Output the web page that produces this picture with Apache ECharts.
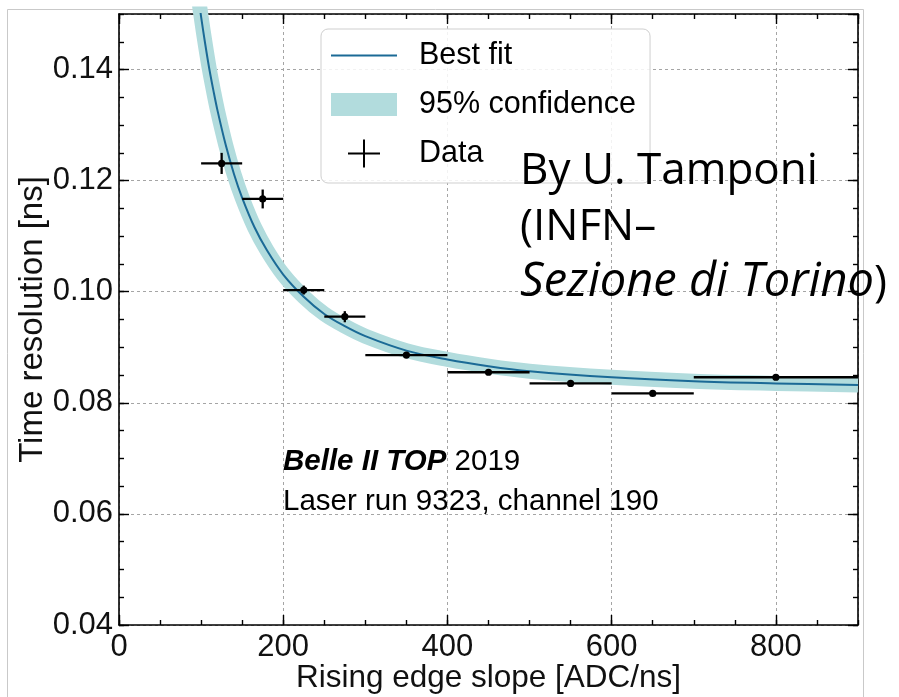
<!DOCTYPE html>
<html>
<head>
<meta charset="utf-8">
<script src="https://cdn.jsdelivr.net/npm/echarts@6/dist/echarts.min.js"></script>
<style>
  html, body { margin: 0; padding: 0; background: #ffffff; }
  #chart { width: 899px; height: 697px; }
</style>
</head>
<body>
<div id="chart"></div>
<script>
// Fitted time resolution vs. rising edge slope (sampled along the curve)
const fitSlope = [90, 95, 100, 105, 110, 115, 120, 130, 140, 150, 165, 180, 200, 225, 250, 275, 300, 350, 400, 450, 500, 600, 700, 800, 900];
const fitResolution = [0.1613, 0.1550, 0.1495, 0.1446, 0.1401, 0.1362, 0.1326, 0.1264, 0.1212, 0.1169, 0.1116, 0.1075, 0.1031, 0.0991, 0.0960, 0.0938, 0.0920, 0.0894, 0.0878, 0.0866, 0.0857, 0.0846, 0.0839, 0.0835, 0.0832];

// Measured points: slope bin centre and edges, resolution and its uncertainty
const slopeCenter = [125, 175, 225, 275, 350, 450, 550, 650, 800];
const slopeLow = [100, 150, 200, 250, 300, 400, 500, 600, 700];
const slopeHigh = [150, 200, 250, 300, 400, 500, 600, 700, 900];
const resolution = [0.1231, 0.1167, 0.1003, 0.0955, 0.0886, 0.0855, 0.0835, 0.0817, 0.0846];
const resolutionErr = [0.0019, 0.0017, 0.0008, 0.0010, 0.0003, 0.0003, 0.0003, 0.0003, 0.0003];

// Axis tick values
const xMajorStep = 200, xMinorStep = 50, xMin = 0, xMax = 900;
const yMajorStep = 0.02, yMinorStep = 0.005, yMin = 0.04, yMax = 0.15;

const FONT = 'Liberation Sans, Helvetica, Arial, sans-serif';
const NOTE_FONT = 'Open Sans, Noto Sans, sans-serif';
const BAND = '#b2dcdd';
const FIT = '#1b6a96';

const chart = echarts.init(document.getElementById('chart'), null, { renderer: 'canvas' });

const fitData = fitSlope.map((x, i) => [x, fitResolution[i]]);
const pointData = slopeCenter.map((x, i) => [x, resolution[i], slopeLow[i], slopeHigh[i], resolutionErr[i]]);

function axis(kind, position, step, major, withLabels) {
  const isX = kind === 'x';
  const a = {
    type: 'value',
    position: position,
    min: isX ? xMin : yMin,
    max: isX ? xMax : yMax,
    interval: step,
    axisLine: { show: major, onZero: false, lineStyle: { color: '#000', width: 1.6 } },
    axisTick: { show: true, inside: true, length: major ? 10 : 5, lineStyle: { color: '#000', width: 1.4 } },
    axisLabel: { show: false },
    splitLine: { show: false },
    minorTick: { show: false }
  };
  if (withLabels) {
    a.axisLabel = {
      show: true,
      showMaxLabel: false,
      margin: isX ? 7 : 6,
      fontSize: 31,
      color: '#111',
      fontFamily: FONT,
      formatter: isX ? (v) => String(Math.round(v)) : (v) => v.toFixed(2)
    };
    a.splitLine = { show: true, lineStyle: { color: '#a5a5a5', width: 1, type: [3, 3] } };
  }
  return a;
}

const xAxes = [
  Object.assign(axis('x', 'bottom', xMajorStep, true, true), {
    name: 'Rising edge slope [ADC/ns]',
    nameLocation: 'middle',
    nameGap: 37,
    nameMoveOverlap: false,
    nameTextStyle: { fontSize: 31.5, color: '#111', fontFamily: FONT }
  }),
  axis('x', 'bottom', xMinorStep, false, false),
  axis('x', 'top', xMajorStep, true, false),
  axis('x', 'top', xMinorStep, false, false)
];
const yAxes = [
  Object.assign(axis('y', 'left', yMajorStep, true, true), {
    name: 'Time resolution [ns]',
    nameLocation: 'middle',
    nameGap: 70,
    nameMoveOverlap: false,
    nameTextStyle: { fontSize: 33, color: '#111', fontFamily: FONT }
  }),
  axis('y', 'left', yMinorStep, false, false),
  axis('y', 'right', yMajorStep, true, false),
  axis('y', 'right', yMinorStep, false, false)
];

const corners = 'M0,0h0.01v0.01h-0.01zM65.99,27.99h0.01v0.01h-0.01z';
const lineIcon = 'path://' + corners + 'M0,13h66v2h-66z';
const bandIcon = 'path://' + corners + 'M0,2.5h66v23h-66z';
const crossIcon = 'path://' + corners + 'M17,13h32v2h-32zM32,0h2v28h-2z';

const option = {
  animation: false,
  backgroundColor: '#ffffff',
  grid: { left: 119, top: 14, right: 41, bottom: 72, containLabel: false, outerBoundsMode: 'none' },
  xAxis: xAxes,
  yAxis: yAxes,
  legend: {
    orient: 'vertical',
    left: 321,
    top: 29,
    itemWidth: 66,
    itemHeight: 28,
    itemGap: 18,
    padding: [11, 14, 14, 10],
    backgroundColor: 'rgba(255,255,255,0.85)',
    borderColor: '#cfcfcf',
    borderWidth: 1,
    borderRadius: 7,
    selectedMode: false,
    textStyle: { fontSize: 30.5, color: '#000', fontFamily: FONT, padding: [0, 0, 0, 17] },
    data: [
      { name: 'Best fit', icon: lineIcon },
      { name: '95% confidence', icon: bandIcon },
      { name: 'Data', icon: crossIcon }
    ]
  },
  graphic: [
    {
      type: 'rect', z: -10, silent: true,
      shape: { x: 7.5, y: 9.5, width: 856, height: 700 },
      style: { fill: 'none', stroke: '#c9c9c9', lineWidth: 1 }
    },
    {
      type: 'text', z: 100, silent: true, x: 283, y: 442,
      style: {
        text: '{b|Belle II TOP} 2019\nLaser run 9323, channel 190',
        fontSize: 29.5, fontFamily: FONT, fill: '#000', lineHeight: 40,
        rich: {
          b: { fontSize: 29.5, fontFamily: FONT, fontWeight: 'bold', fontStyle: 'italic', lineHeight: 40 }
        }
      }
    },
    {
      type: 'text', z: 100, silent: true, x: 520, y: 143,
      style: {
        text: 'By U. Tamponi\n(INFN\u2013\n{i|Sezione di Torino})',
        fontSize: 44, fontFamily: NOTE_FONT, fill: '#000', lineHeight: 56,
        rich: {
          i: { fontSize: 47, fontFamily: NOTE_FONT, fontStyle: 'italic', lineHeight: 56 }
        }
      }
    }
  ],
  series: [
    {
      name: '95% confidence',
      type: 'line',
      data: fitData,
      smooth: 0.35,
      symbol: 'none',
      showSymbol: false,
      color: BAND,
      itemStyle: { color: BAND },
      lineStyle: { color: BAND, width: 15, cap: 'butt' },
      z: 2,
      silent: true
    },
    {
      name: 'Best fit',
      type: 'line',
      data: fitData,
      smooth: 0.35,
      symbol: 'none',
      showSymbol: false,
      color: FIT,
      itemStyle: { color: FIT },
      lineStyle: { color: FIT, width: 2 },
      z: 3,
      silent: true
    },
    {
      name: 'Data',
      type: 'custom',
      data: pointData,
      encode: { x: 0, y: 1 },
      itemStyle: { color: '#000' },
      z: 4,
      silent: true,
      renderItem: function (params, api) {
        const x = api.value(0), y = api.value(1);
        const c = api.coord([x, y]);
        const l = api.coord([api.value(2), y]);
        const r = api.coord([api.value(3), y]);
        const t = api.coord([x, y + api.value(4)]);
        const b = api.coord([x, y - api.value(4)]);
        return {
          type: 'group',
          children: [
            { type: 'line', shape: { x1: l[0], y1: c[1], x2: r[0], y2: c[1] }, style: { stroke: '#000', lineWidth: 2.3 } },
            { type: 'line', shape: { x1: c[0], y1: t[1], x2: c[0], y2: b[1] }, style: { stroke: '#000', lineWidth: 2.3 } },
            { type: 'circle', shape: { cx: c[0], cy: c[1], r: 3.6 }, style: { fill: '#000' } }
          ]
        };
      }
    }
  ]
};

chart.setOption(option);
</script>
</body>
</html>
